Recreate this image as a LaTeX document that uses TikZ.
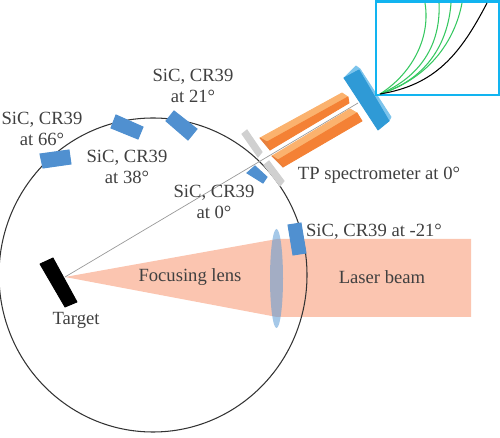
\documentclass[tikz,border=0pt]{standalone}
\usepackage{fontspec}
\setmainfont{Liberation Serif}
\usepackage{tikz}
\usetikzlibrary{positioning, shapes.geometric}
\definecolor{detblue}{HTML}{5090D0}
\definecolor{platedark}{HTML}{2F9AD6}
\definecolor{platelight}{HTML}{7CC4EC}
\definecolor{orangedark}{HTML}{F48135}
\definecolor{orangelight}{HTML}{FBB26E}
\definecolor{orangeend}{HTML}{E8803C}
\definecolor{beamcol}{HTML}{FBC5B0}
\definecolor{lenscol}{HTML}{5B9BD5}
\definecolor{insetcol}{HTML}{12B4F0}
\definecolor{greencurve}{HTML}{35C860}
\definecolor{slitcol}{HTML}{D0D0D0}
\definecolor{txtcol}{HTML}{404040}

\begin{document}
\begin{tikzpicture}[
    x=0.02cm, y=-0.02cm,
    label/.style={text=txtcol, align=center, inner sep=0pt, font=\fontsize{10.6}{12}\selectfont},
    det/.style={fill=detblue, draw=detblue, line width=0.6pt},
    slit/.style={fill=slitcol, draw=slitcol, line width=0.6pt},
    solid/.style={fill=#1, draw=#1, line width=0.5pt, line join=round},
    curve/.style={greencurve, line width=0.6pt}
]
\useasboundingbox (0,0) rectangle (500,438);

% Fascio laser e lente
\fill[beamcol] (65,277) -- (277,239) -- (471,239) -- (471,317) -- (277,317) -- cycle;
\node[draw=none, fill=lenscol, fill opacity=0.55, ellipse, minimum width=13*0.02cm, minimum height=99*0.02cm, inner sep=0pt] (lens) at (276.5,278.5) {};

% Camera
\draw[black!80, line width=0.6pt] (153,275) ellipse (154 and 157);

% Linea di vista
\coordinate (tcc) at (65,277);
\coordinate (tp) at (358,103);
\draw[gray!80, line width=0.4pt] (tcc) -- (tp);

% Bersaglio
\filldraw[solid=black] (40,264) -- (53,258) -- (77,302) -- (65,307) -- cycle;

% Rivelatori
\filldraw[det] (40,154) -- (69,150) -- (71,164) -- (43,168) -- cycle;
\filldraw[det] (116,115) -- (143,127) -- (138,139) -- (111,128) -- cycle;
\filldraw[det] (174,111) -- (197,129) -- (188,140) -- (166,121) -- cycle;
\filldraw[det] (255,166) -- (267,177) -- (263,183) -- (247,173) -- cycle;
\filldraw[det] (288,225) -- (301,223) -- (306,253) -- (293,255) -- cycle;

% Fenditure
\filldraw[slit] (242,134) -- (247,130) -- (262,152) -- (258,157) -- cycle;
\filldraw[slit] (264,165) -- (269,161) -- (284,181) -- (280,186) -- cycle;

% Spettrometro
\filldraw[solid=orangelight] (260,138) -- (342,93) -- (348,97) -- (267,142) -- cycle;
\filldraw[solid=orangedark] (267,142) -- (348,97) -- (349,103) -- (270,150) -- cycle;
\filldraw[solid=orangeend] (260,138) -- (267,142) -- (270,150) -- cycle;
\filldraw[solid=orangelight] (272,156) -- (350,109) -- (357,113) -- (278,160) -- cycle;
\filldraw[solid=orangedark] (278,160) -- (357,113) -- (362,121) -- (283,167) -- cycle;
\filldraw[solid=orangeend] (272,156) -- (278,160) -- (283,167) -- cycle;

% Piastra
\filldraw[solid=platelight] (344,78) -- (356,66) -- (360,69) -- (391,117) -- (389,121) -- cycle;
\filldraw[solid=platedark] (344,78) -- (359,70) -- (389,121) -- (378,130) -- cycle;

% Riquadro con le tracce
\draw[insetcol, line width=1.7pt, fill=white] (376,2) rectangle (499,95);
\coordinate (orig) at (380,94);
\draw[curve] (orig) .. controls (410,75) and (431,40) .. (425,3);
\draw[curve] (orig) .. controls (420,77) and (441,45) .. (439,3);
\draw[curve] (orig) .. controls (425,80) and (448,45) .. (451,3);
\draw[curve] (orig) .. controls (430,78) and (455,40) .. (462,3);
\draw[black, line width=0.6pt] (orig) .. controls (435,85) and (460,55) .. (487,3);

% Etichette
\node[label] (l66) at (42,129) {SiC, CR39\\at 66°};
\node[label] (l38) at (127,167) {SiC, CR39\\at 38°};
\node[label] (l21) at (193,86) {SiC, CR39\\at 21°};
\node[label] (l0) at (214,202) {SiC, CR39\\at 0°};
\node[label] (lm21) at (374,232) {SiC, CR39 at -21°};
\node[label] (ltp) at (379,175) {TP spectrometer at 0°};
\node[label] (lfoc) at (190,277) {Focusing lens};
\node[label] (lbeam) at (382,277) {Laser beam};
\node[label] (ltarget) at (76,320) {Target};

\end{tikzpicture}
\end{document}
